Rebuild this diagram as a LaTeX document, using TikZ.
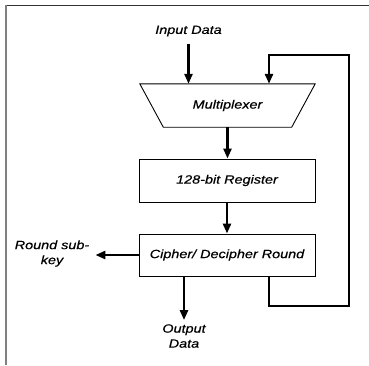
\documentclass[tikz,border=0pt]{standalone}
\usepackage{fontspec}
\setmainfont{Liberation Sans}
\newfontfamily\lblfont{Liberation Sans}[FakeStretch=1.2,FakeBold=0.5]
\usetikzlibrary{arrows.meta}
\begin{document}
\begin{tikzpicture}[x=1pt,y=-1pt,
  lbl/.style={font=\lblfont\itshape\fontsize{12}{15}\selectfont, inner sep=0pt, align=center},
  blockbox/.style={draw, line width=0.9pt, minimum width=176pt, inner sep=0pt, lbl},
  arr/.style={line width=2.6pt, line join=miter, -{Triangle[length=10pt,width=8pt]}}]
\useasboundingbox (0,0) rectangle (369,365);

% page frame
\draw[black!80, line width=1pt] (6,5.5) -- (369,5.5);
\draw[black!50, line width=2pt] (6,5) -- (6,365);

% blocks
\node[lbl] (in) at (188.5,31) {Input Data};
\node[lbl, minimum width=175pt, minimum height=43pt] (mux) at (227.5,105.5) {Multiplexer};
\draw[line width=0.9pt, line join=miter] (mux.north west) -- (mux.north east)
  -- ([xshift=-23.5pt]mux.south east) -- ([xshift=23.5pt]mux.south west) -- cycle;
\node[blockbox, minimum height=43pt] (reg) at (227,180.5) {128-bit Register};
\node[blockbox, minimum height=42pt] (cip) at (227,255) {Cipher/ Decipher Round};
\node[lbl] (key) at (52,253.5) {Round sub-\\key};
\node[lbl] (out) at (184,336) {Output\\Data};

% helper coordinates for the off-centre connectors
\coordinate (outx) at (184,0);
\coordinate (fbx) at (269,0);
\coordinate (fbse) at (349,306);
\coordinate (fbne) at (349,55);

% data path
\draw[arr] ([yshift=-7pt]in.south) -- (in |- mux.north);
\draw[arr] (mux.south) -- (mux.south |- reg.north);
\draw[arr] (reg.south) -- (cip.north);
\draw[arr, shorten >=6pt] (cip.west) -- (cip.west -| key.east);
\draw[arr] (cip.south -| outx) -- ([yshift=4pt]out.north);

% feedback loop into the multiplexer
\draw[arr] (cip.south -| fbx) -- (fbx |- fbse) -- (fbse) -- (fbne)
  -- (fbx |- fbne) -- (fbx |- mux.north);
\end{tikzpicture}
\end{document}
